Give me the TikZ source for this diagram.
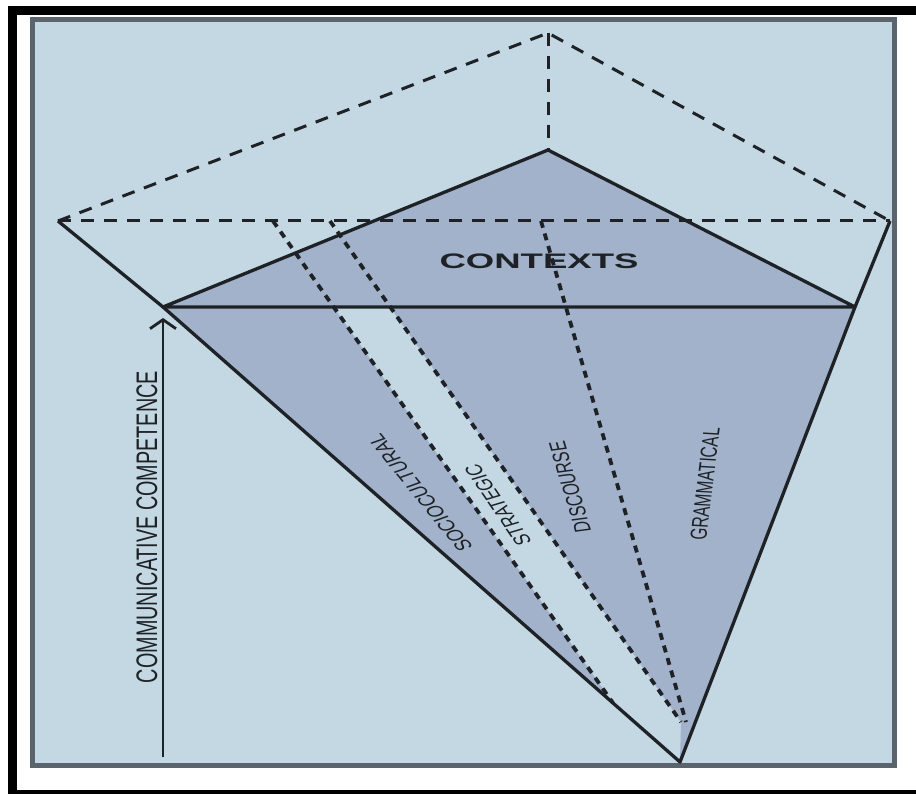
\documentclass[tikz,border=0pt]{standalone}
\usepackage{fontspec}
\setmainfont{Liberation Sans}
\usepackage{graphicx}
\usetikzlibrary{arrows.meta}

\definecolor{paneblue}{HTML}{C3D8E3}
\definecolor{facefill}{HTML}{A2B2CA}
\definecolor{rimgray}{HTML}{5B646C}
\definecolor{inkdark}{HTML}{1E2226}

% rotate the text, then widen it sideways like the picture
\newcommand{\tiltlabel}[2]{\scalebox{1.5}[1]{\rotatebox{#1}{#2}}}

\begin{document}
\begin{tikzpicture}[
  x=1pt, y=-1pt,
  every node/.style={inner sep=0pt, text=inkdark},
  edge/.style={line width=3.3pt, draw=inkdark, line join=round},
  hidden/.style={line width=3.0pt, draw=inkdark, dash pattern=on 13pt off 10pt},
  split/.style={line width=3.8pt, draw=inkdark, dash pattern=on 7pt off 6pt},
  face/.style={fill=facefill},
  lbl/.style={font=\fontsize{15.5}{18}\selectfont}
]
\useasboundingbox (0,0) rectangle (916,794);
\clip (0,0) rectangle (916,794);

% frame
\fill[white] (0,0) rectangle (916,794);
\draw[line width=9pt] (12,10.5) rectangle (935,794.5);
\draw[rimgray, line width=5pt, fill=paneblue] (32.5,20) rectangle (894,765.5);

% corners of the pyramid
\coordinate (T) at (548,33);
\coordinate (L) at (58,221);
\coordinate (R) at (890,221);
\coordinate (A) at (548,150);
\coordinate (B) at (163,307);
\coordinate (C) at (855,307);
\coordinate (D) at (680,762);

% ends of the inner dashed lines
\coordinate (S1) at (273,221);
\coordinate (S2) at (330,221);
\coordinate (S3) at (541,221);
\coordinate (E1) at (613,703);
\coordinate (E2) at (681,722);
\coordinate (E3) at (686,722);
\coordinate (P1) at (333.5,307);
\coordinate (P2) at (390,307);

% shaded faces
\fill[face] (A) -- (B) -- (C) -- cycle;
\fill[face] (B) -- (P1) -- (E1) -- cycle;
\fill[face] (P2) -- (C) -- (D) -- (E2) -- cycle;

% dashed lines
\draw[hidden] (L) -- (T) -- (R);
\draw[hidden] (L) -- (R);
\draw[hidden] (T) -- (A);
\draw[split] (S1) -- (E1);
\draw[split] (S2) -- (E2);
\draw[split] (S3) -- (E3);

% solid edges
\draw[edge] (A) -- (B) -- (C) -- cycle;
\draw[edge] (L) -- (B) -- (D) -- (C) -- (R);

% arrow
\coordinate (base) at (163,757);
\coordinate (tip) at (163,318);
\draw[line width=2.8pt, draw=inkdark, -{Straight Barb[length=9pt,width=26pt]}] (base) -- (tip);

% labels
\node[font=\bfseries\fontsize{21}{24}\selectfont] (ctx) at (539,261) {\scalebox{1.74}[1]{CONTEXTS}};
\node[lbl] (socio) at (420,493) {\tiltlabel{118.4}{SOCIOCULTURAL}};
\node[lbl] (strat) at (498,505) {\tiltlabel{114.3}{STRATEGIC}};
\node[lbl] (disc) at (570,487) {\tiltlabel{101.3}{DISCOURSE}};
\node[lbl] (gram) at (705,484) {\tiltlabel{85.3}{GRAMMATICAL}};
\node[font=\fontsize{19.8}{22}\selectfont] (comp) at (147,527) {\tiltlabel{90}{COMMUNICATIVE COMPETENCE}};
\end{tikzpicture}
\end{document}
